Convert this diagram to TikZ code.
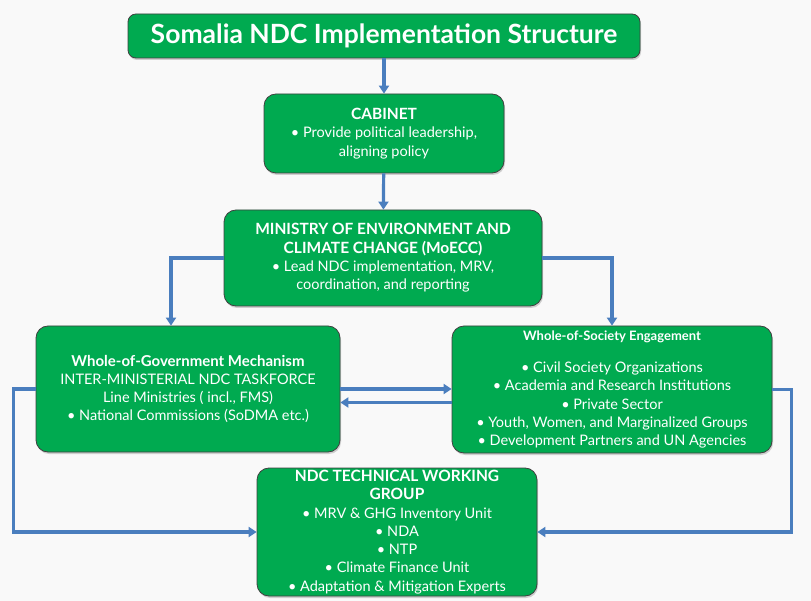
\documentclass[tikz,border=0pt]{standalone}
\usepackage{fontspec}
\setmainfont{Lato}
\usetikzlibrary{arrows.meta,shadows}

\definecolor{boxgreen}{RGB}{0,170,80}
\definecolor{linkblue}{RGB}{74,126,190}
\definecolor{paper}{RGB}{249,249,249}

\newcommand{\hd}[1]{{\fontsize{15.5}{18.3}\bfseries #1}}

\tikzset{
  unit/.style={draw=black!75, line width=0.8pt, fill=boxgreen, rounded corners=12pt,
    text=white, align=center, inner sep=1pt, font=\fontsize{14.5}{18.3}\selectfont,
    drop shadow={shadow xshift=1pt, shadow yshift=-2pt, opacity=0.35}},
  link/.style={draw=linkblue, line width=3.2pt, -{Triangle[length=8pt,width=10pt]}}
}

\begin{document}
\begin{tikzpicture}[x=1pt, y=-1pt]

\fill[paper] (0,0) rectangle (811,601);

% boxes
\node[unit, minimum width=512pt, minimum height=44pt, rounded corners=8pt,
      font=\fontsize{26.5}{28}\bfseries] (title) at (384,36)
      {Somalia NDC Implementation Structure};
\node[unit, minimum width=240pt, minimum height=79pt] (cabinet) at (384,133.5)
      {\hd{CABINET}\\ • Provide political leadership,\\ aligning policy};
\node[unit, minimum width=318pt, minimum height=96pt] (moecc) at (383,258)
      {\hd{MINISTRY OF ENVIRONMENT AND}\\ \hd{CLIMATE CHANGE (MoECC)}\\
       • Lead NDC implementation, MRV,\\ coordination, and reporting};
\node[unit, minimum width=304pt, minimum height=126pt] (gov) at (188,389)
      {{\fontsize{15}{18.3}\bfseries Whole-of-Government Mechanism}\\ INTER-MINISTERIAL NDC TASKFORCE\\
       Line Ministries ( incl., FMS)\\ • National Commissions (SoDMA etc.)};
\node[unit, minimum width=320pt, minimum height=127pt] (society) at (612,389.5)
      {{\fontsize{13}{15}\bfseries Whole-of-Society Engagement}\\[14pt]
       • Civil Society Organizations\\ • Academia and Research Institutions\\
       • Private Sector\\ • Youth, Women, and Marginalized Groups\\
       • Development Partners and UN Agencies};
\node[unit, minimum width=280pt, minimum height=128pt] (twg) at (397,532)
      {\hd{NDC TECHNICAL WORKING}\\ \hd{GROUP}\\ • MRV \& GHG Inventory Unit\\
       • NDA\\ • NTP\\ • Climate Finance Unit\\ • Adaptation \& Mitigation Experts};

% connectors
\draw[link] (title) -- (cabinet);
\draw[link] (cabinet) -- (moecc);
\draw[link] (moecc.west) -| ([xshift=-17pt]gov.north);
\draw[link] (moecc.east) -| (society.north);
\draw[link] (gov.east) -- (gov.east -| society.west);
\draw[link] ([yshift=-13pt]society.west) -- ([yshift=-13pt]society.west -| gov.east);
\draw[link] (gov.west) -- ++(-22,0) |- (twg.west);
\draw[link] (society.east) -- ++(19,0) |- (twg.east);

\end{tikzpicture}
\end{document}
